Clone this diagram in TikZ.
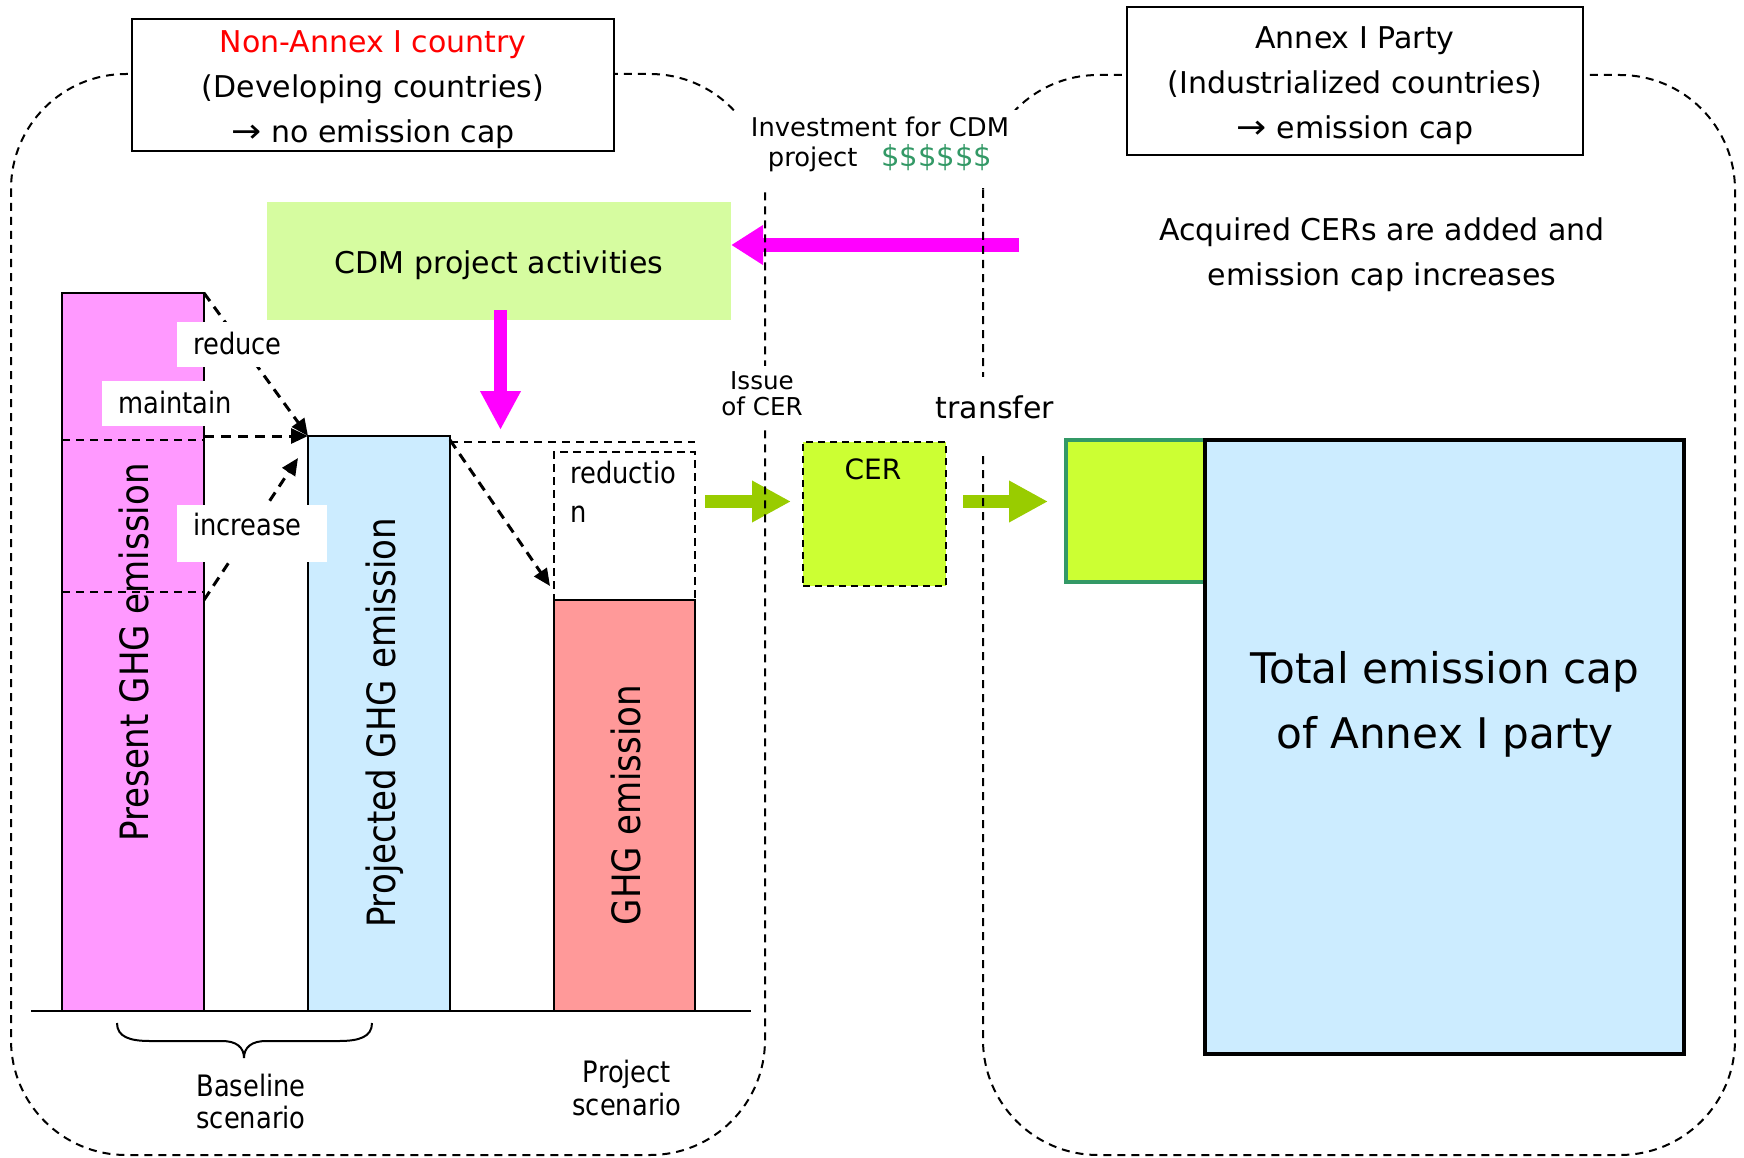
\documentclass[tikz,border=0pt]{standalone}
\usepackage{fontspec}
\setmainfont{DejaVu Sans}
\newfontfamily\tahfont[FakeStretch=0.873]{DejaVu Sans}
\usetikzlibrary{arrows.meta}
\definecolor{pinkbar}{HTML}{FF99FF}
\definecolor{bluebar}{HTML}{CCECFF}
\definecolor{salmonbar}{HTML}{FF9999}
\definecolor{cdmgreen}{HTML}{D6FCA0}
\definecolor{cerfill}{HTML}{CCFF33}
\definecolor{arrgreen}{HTML}{99CC00}
\definecolor{seagr}{HTML}{339966}
\definecolor{magcol}{HTML}{FF00FF}
\newcommand{\bigarrowglyph}{\scalebox{1.2}[1.1]{→}}
\begin{document}
\begin{tikzpicture}[x=1pt,y=-1pt,
  regionline/.style={draw=black, line width=2pt, dash pattern=on 8pt off 6pt, rounded corners=115pt},
  titlebox/.style={draw=black, line width=2.5pt, fill=white, inner sep=0pt, outer sep=0pt},
  txt/.style={font=\fontsize{30}{45}\selectfont, align=center, inner sep=0pt},
  barbox/.style={draw=black, line width=2.5pt, inner sep=0pt, outer sep=0pt, anchor=north west},
  barlabel/.style={font=\tahfont\fontsize{39}{47}\selectfont, inner sep=0pt, rotate=90, anchor=base},
  smalllab/.style={font=\tahfont\fontsize{29.5}{40}\selectfont, fill=white, inner xsep=16pt, inner ysep=10pt, text height=22pt, text depth=3pt},
  dasharrow/.style={line width=3pt, dash pattern=on 10pt off 7pt, -{Triangle[length=17pt,width=15pt]}},
  thindash/.style={line width=2pt, dash pattern=on 8pt off 6pt},
  fatarrow/.style={line cap=butt},
]
\fill[white] (0,0) rectangle (1744,1158);
\useasboundingbox (0,0) rectangle (1744,1158);

% CDM project activities
\node[fill=cdmgreen, minimum width=464pt, minimum height=118pt, inner sep=0pt,
      font=\fontsize{30}{36}\selectfont, text height=24pt, text depth=0pt] (cdm) at (499,261) {CDM project activities};

% bars
\node[barbox, fill=pinkbar, minimum width=142pt, minimum height=718pt] (present) at (62,293) {};
\node[barbox, fill=bluebar, minimum width=142pt, minimum height=575pt] (proj) at (308,436) {};
\node[barbox, fill=salmonbar, minimum width=141pt, minimum height=411pt] (ghgbar) at (554,600) {};
\node[barbox, fill=none, dash pattern=on 8pt off 5pt, minimum width=141pt, minimum height=148pt] (reduct) at (554,452) {};

\node[barlabel] (presentlab) at (148,652.5) {Present GHG emission};
\node[barlabel] (projlab) at (395,723) {Projected GHG emission};
\node[barlabel] (ghglab) at (640,805) {GHG emission};

\draw[thindash] (62,440) -- (204,440);
\draw[thindash] (62,592) -- (204,592);
\draw[thindash, line width=2.5pt] (450,442) -- (695,442);

% ground line and brace
\draw[line width=2.5pt] (31,1011) -- (751,1011);
\draw[line width=2pt] (117,1023) .. controls (117,1037) and (130,1041) .. (150,1041) -- (222,1041)
  .. controls (236,1041) and (244,1047) .. (244,1058)
  .. controls (244,1047) and (252,1041) .. (266,1041) -- (339,1041)
  .. controls (359,1041) and (372,1037) .. (372,1023);

% dashed arrows
\coordinate (incStart) at (204,600);
\coordinate (incEnd) at (298,458);
\coordinate (projStart) at (450,440);
\coordinate (redTip) at (550,586);
\draw[dasharrow] (present.north east) -- (proj.north west);
\draw[dasharrow] (present.east |- proj.north west) -- (proj.north west);
\draw[dasharrow] (incStart) -- (incEnd);
\draw[dasharrow] (projStart) -- (redTip);

% small labels
\node[smalllab, anchor=base west] (lreduce) at (177,354) {reduce};
\node[smalllab, anchor=base west] (lmaintain) at (102,413) {maintain};
\node[smalllab, anchor=base west, text height=20pt, text depth=17pt, text width=118pt, align=left] (lincrease) at (177,535) {increase};
\node[font=\tahfont\fontsize{29.5}{39}\selectfont, align=left, inner sep=0pt, anchor=north west] (redtext) at (570,460.6) {reductio\\n};

% magenta arrows
\coordinate (magStart) at (1019,245);
\coordinate (magDownStart) at (500.5,310);
\coordinate (magDownEnd) at (500.5,430);
\draw[fatarrow, line width=14pt, magcol, -{Triangle[length=32pt,width=38pt]}] (magStart) -- (magStart -| cdm.east);
\draw[fatarrow, line width=13pt, magcol, -{Triangle[length=39pt,width=38pt]}] (magDownStart) -- (magDownEnd);

% CER boxes
\node[draw=black, fill=cerfill, line width=2.5pt, dash pattern=on 7pt off 5pt, minimum width=143pt, minimum height=144pt, inner sep=0pt, outer sep=0pt, anchor=north west] (cer) at (803,442) {};
\node[txt, anchor=base, font=\fontsize{28}{34}\selectfont] (certext) at (873,479) {CER};
\node[draw=seagr, fill=cerfill, line width=4pt, minimum width=139pt, minimum height=142pt, inner sep=0pt, outer sep=0pt, anchor=north west] (acqcer) at (1066,440) {};
\node[draw=black, fill=bluebar, line width=4pt, minimum width=479pt, minimum height=614pt, inner sep=0pt, outer sep=0pt, anchor=north west] (total) at (1205,440) {};
\node[txt, anchor=north, font=\fontsize{42.2}{65}\selectfont] (tottext) at (1445,651) {Total emission cap\\of Annex I party};

% green arrows
\coordinate (g1s) at (705,501.5);
\coordinate (g1e) at (791,501.5);
\coordinate (g2s) at (963,501.5);
\coordinate (g2e) at (1048,501.5);
\draw[fatarrow, line width=13pt, arrgreen, -{Triangle[length=39pt,width=39pt]}] (g1s) -- (g1e);
\draw[fatarrow, line width=13pt, arrgreen, -{Triangle[length=39pt,width=39pt]}] (g2s) -- (g2e);

% regions
\draw[regionline] (11,74) rectangle (765,1155);
\draw[regionline] (983,75) rectangle (1735,1155);

% gaps and their texts
\fill[white] (735,110) rectangle (1017,188);
\fill[white] (745,366) rectangle (785,427);
\fill[white] (965,377) rectangle (1001,456);
\node[txt, anchor=north, font=\fontsize{25.8}{30}\selectfont] (invest) at (880,117)
  {Investment for CDM\\project\hspace{24pt}{\color{seagr}\fontsize{29}{30}\selectfont\$\$\$\$\$\$}};
\node[txt, anchor=north, font=\fontsize{24.6}{26}\selectfont] (issue) at (762,371) {Issue\\of CER};
\node[txt, anchor=base] (transfer) at (995,418) {transfer};

% title boxes
\node[titlebox, minimum width=482pt, minimum height=132pt] (nabox) at (373,85) {};
\node[txt, anchor=north] (natext) at (373,30.1) {{\color{red}Non-Annex I country}\\(Developing countries)\\\bigarrowglyph\ no emission cap};
\node[titlebox, minimum width=456pt, minimum height=148pt] (abox) at (1355,81) {};
\node[txt, anchor=north] (atext) at (1355,26.1) {Annex I Party\\(Industrialized countries)\\\bigarrowglyph\ emission cap};

\node[txt, anchor=north] (acq) at (1382,217.2) {Acquired CERs are added and\\emission cap increases};

% scenario labels
\node[anchor=north, align=center, inner sep=0pt, font=\tahfont\fontsize{29.5}{32}\selectfont] (basel) at (251,1073.6) {Baseline\\scenario};
\node[anchor=north, align=center, inner sep=0pt, font=\tahfont\fontsize{29.5}{33}\selectfont] (projsc) at (627,1059.6) {Project\\scenario};
\end{tikzpicture}
\end{document}
